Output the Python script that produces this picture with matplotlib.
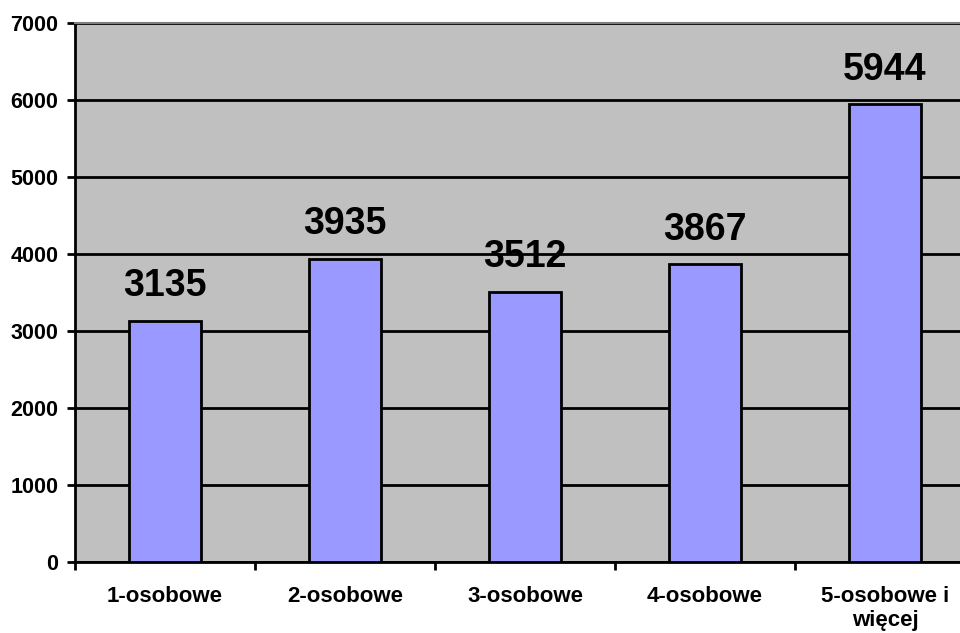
import matplotlib.pyplot as plt
import numpy as np

categories = ['1-osobowe', '2-osobowe', '3-osobowe', '4-osobowe', '5-osobowe i\nwięcej']
values = [3135, 3935, 3512, 3867, 5944]
y_ticks = [0, 1000, 2000, 3000, 4000, 5000, 6000, 7000]

plt.rcParams['font.family'] = ['Liberation Sans', 'DejaVu Sans']
plt.rcParams['font.weight'] = 'bold'

fig = plt.figure(figsize=(9.6, 6.33), dpi=100)
# the right end of the plot area is cut off in the reference
ax = fig.add_axes([75 / 960, 71 / 633, 900 / 960, 539 / 633])
ax.set_facecolor('#C0C0C0')

x = np.arange(len(categories))
bars = ax.bar(x, values, width=0.4, color='#9999FF', edgecolor='black',
              linewidth=2, zorder=3)

for rect, v in zip(bars, values):
    ax.annotate(str(v), (rect.get_x() + rect.get_width() / 2, v),
                xytext=(0, 12), textcoords='offset points',
                ha='center', va='bottom', fontsize=27, fontweight='bold')

ax.set_xlim(-0.5, len(categories) - 0.5)
ax.set_ylim(0, 7000)
ax.set_yticks(y_ticks)
ax.set_yticklabels([str(t) for t in y_ticks], fontsize=15.5, fontweight='bold')
ax.yaxis.grid(True, color='black', linewidth=2, zorder=0)
ax.set_axisbelow(True)

# ticks at category boundaries, labels at centers
ax.set_xticks(np.arange(len(categories) + 1) - 0.5)
ax.set_xticklabels([])
ax.set_xticks(x, minor=True)
ax.set_xticklabels(categories, minor=True, fontsize=16, fontweight='bold')
ax.tick_params(axis='x', which='minor', length=0, pad=17)
ax.tick_params(axis='x', which='major', length=6, width=2, direction='out')
ax.tick_params(axis='y', length=6, width=2, direction='out', pad=6)

ax.spines['left'].set_linewidth(2)
ax.spines['bottom'].set_linewidth(2)
ax.spines['top'].set_color('#808080')
ax.spines['top'].set_linewidth(1.5)
ax.spines['right'].set_visible(False)

fig.savefig('out.png', dpi=100)
